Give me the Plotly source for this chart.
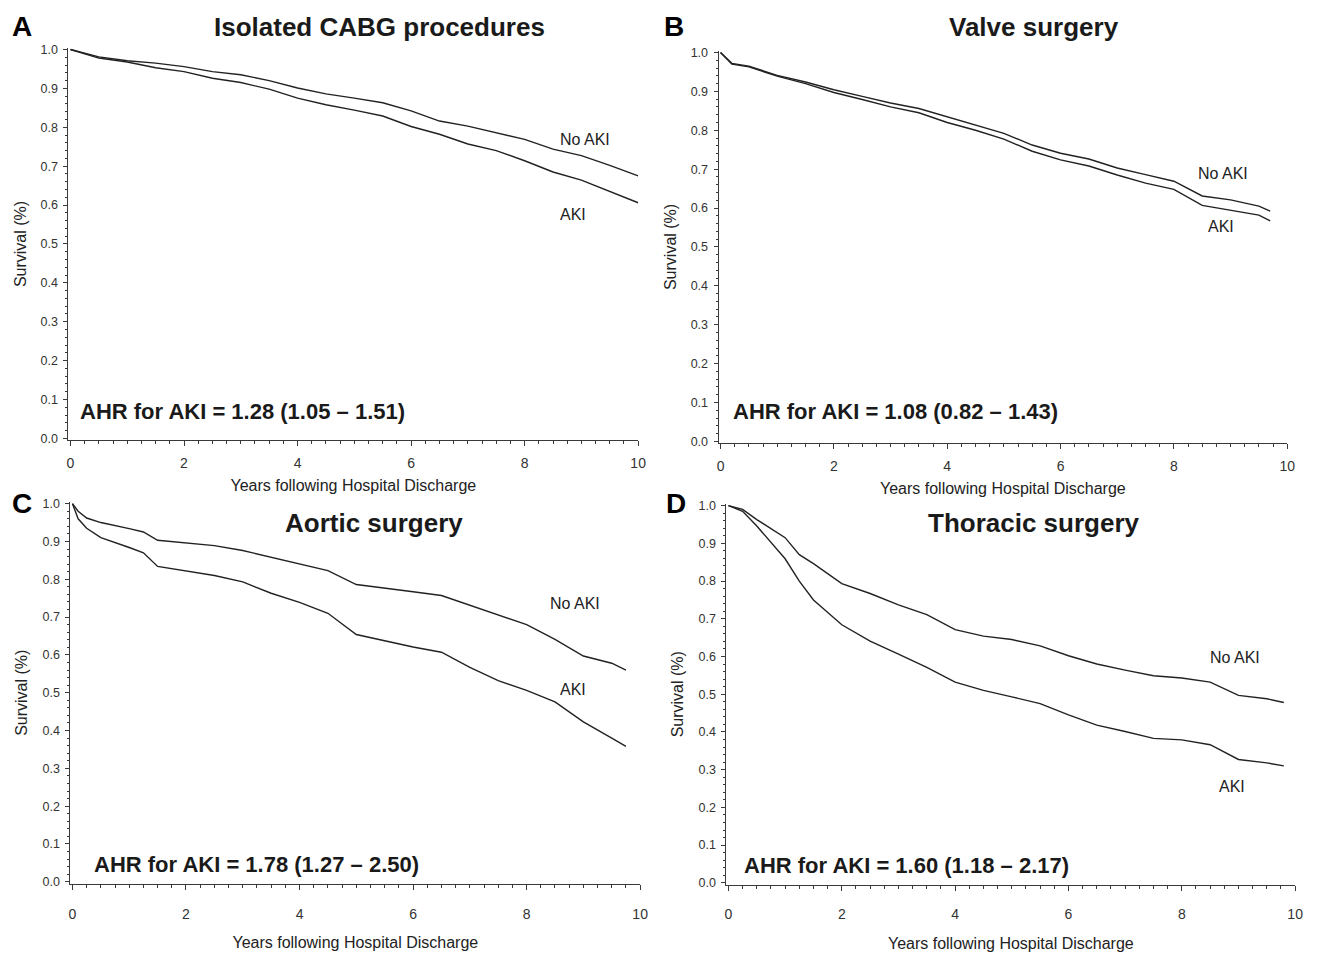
import plotly.graph_objects as go

# ---------------- data ----------------
t_a = [0, 0.5, 1, 1.5, 2, 2.5, 3, 3.5, 4, 4.5, 5, 5.5, 6, 6.5, 7, 7.5, 8, 8.5, 9, 9.5, 10]
cabg_no_aki = [1.0, 0.981, 0.971, 0.965, 0.956, 0.943, 0.935, 0.920, 0.901, 0.886, 0.875,
               0.863, 0.842, 0.816, 0.803, 0.786, 0.769, 0.744, 0.727, 0.702, 0.675]
cabg_aki = [1.0, 0.978, 0.968, 0.953, 0.943, 0.926, 0.915, 0.898, 0.875, 0.858, 0.844,
            0.829, 0.802, 0.782, 0.757, 0.740, 0.714, 0.685, 0.664, 0.634, 0.606]

t_b = [0, 0.1, 0.2, 0.5, 1, 1.5, 2, 2.5, 3, 3.5, 4, 4.5, 5, 5.5, 6, 6.5, 7, 7.5, 8, 8.5, 9, 9.5, 9.7]
valve_no_aki = [1.0, 0.985, 0.972, 0.965, 0.941, 0.924, 0.904, 0.887, 0.870, 0.856, 0.834, 0.813,
                0.792, 0.762, 0.741, 0.726, 0.703, 0.686, 0.669, 0.631, 0.621, 0.605, 0.592]
valve_aki = [1.0, 0.985, 0.970, 0.963, 0.939, 0.920, 0.897, 0.879, 0.860, 0.845, 0.820, 0.800,
             0.777, 0.746, 0.724, 0.708, 0.685, 0.664, 0.648, 0.607, 0.595, 0.582, 0.567]

t_c = [0, 0.1, 0.25, 0.5, 1, 1.25, 1.5, 2, 2.5, 3, 3.5, 4, 4.5, 5, 5.5, 6, 6.5, 7, 7.5, 8, 8.5, 9, 9.5, 9.75]
aortic_no_aki = [1.0, 0.980, 0.962, 0.950, 0.934, 0.925, 0.903, 0.896, 0.889, 0.876, 0.858, 0.841,
                 0.823, 0.786, 0.777, 0.767, 0.757, 0.732, 0.706, 0.680, 0.641, 0.597, 0.578, 0.560]
aortic_aki = [1.0, 0.960, 0.935, 0.910, 0.884, 0.870, 0.834, 0.823, 0.810, 0.793, 0.763, 0.739,
              0.710, 0.654, 0.637, 0.621, 0.607, 0.567, 0.532, 0.506, 0.476, 0.423, 0.380, 0.358]

t_d = [0, 0.25, 0.5, 1, 1.25, 1.5, 2, 2.5, 3, 3.5, 4, 4.5, 5, 5.5, 6, 6.5, 7, 7.5, 8, 8.5, 9, 9.5, 9.8]
thoracic_no_aki = [1.0, 0.99, 0.963, 0.915, 0.870, 0.846, 0.793, 0.767, 0.737, 0.711, 0.671, 0.654,
                   0.645, 0.628, 0.602, 0.580, 0.564, 0.549, 0.543, 0.532, 0.497, 0.488, 0.478]
thoracic_aki = [1.0, 0.985, 0.946, 0.859, 0.800, 0.750, 0.684, 0.641, 0.606, 0.571, 0.532, 0.510,
                0.493, 0.475, 0.445, 0.418, 0.401, 0.383, 0.379, 0.366, 0.327, 0.318, 0.310]

panel_letters = ["A", "B", "C", "D"]
panel_titles = ["Isolated CABG procedures", "Valve surgery", "Aortic surgery", "Thoracic surgery"]
ahr_texts = ["AHR for AKI = 1.28 (1.05 \u2013 1.51)", "AHR for AKI = 1.08 (0.82 \u2013 1.43)",
             "AHR for AKI = 1.78 (1.27 \u2013 2.50)", "AHR for AKI = 1.60 (1.18 \u2013 2.17)"]
x_ticks = [0, 2, 4, 6, 8, 10]
y_ticks = [0.0, 0.1, 0.2, 0.3, 0.4, 0.5, 0.6, 0.7, 0.8, 0.9, 1.0]
y_ticktext = ["%.1f" % v for v in y_ticks]
x_title = "Years following Hospital Discharge"
y_title = "Survival (%)"

series = [
    (t_a, cabg_no_aki, cabg_aki),
    (t_b, valve_no_aki, valve_aki),
    (t_c, aortic_no_aki, aortic_aki),
    (t_d, thoracic_no_aki, thoracic_aki),
]

# ---------------- layout geometry (pixels) ----------------
W, H = 1323, 955
FONT = "Liberation Sans, Arial, sans-serif"
INK = "#1a1a1a"
AX = "#3a3a3a"

# (left, right, bottom, top) in px
boxes = [(67, 641, 440, 43), (722, 1295, 443, 46), (69, 643, 888, 502), (730, 1303, 889, 504)]
title_pos = [(380, 22), (1040, 22), (375, 523), (1040, 523)]
letter_pos = [(20, 22), (677, 22), (20, 504), (679, 504)]
# label positions in data coords
noaki_lbl = [(9.07, 0.768), (8.86, 0.69), (8.86, 0.736), (8.93, 0.596)]
aki_lbl = [(8.85, 0.575), (8.83, 0.552), (8.81, 0.508), (8.88, 0.255)]
ahr_pos = [(0.13, 0.069), (0.19, 0.076), (0.35, 0.045), (0.23, 0.047)]
xtick_standoff = [5, 5, 12, 12]
xtitle_standoff = [9, 9, 16, 16]

fig = go.Figure()
annotations = []
layout = dict(width=W, height=H, margin=dict(l=0, r=0, t=0, b=0),
              paper_bgcolor="white", plot_bgcolor="white", showlegend=False,
              font=dict(family=FONT, color=INK))

for i in range(4):
    n = "" if i == 0 else str(i + 1)
    xa, ya = "x" + n, "y" + n
    t, no_aki, aki = series[i]
    fig.add_trace(go.Scatter(x=t, y=no_aki, mode="lines", xaxis=xa, yaxis=ya, name="No AKI",
                             line=dict(color="#222222", width=1.4)))
    fig.add_trace(go.Scatter(x=t, y=aki, mode="lines", xaxis=xa, yaxis=ya, name="AKI",
                             line=dict(color="#222222", width=1.4)))
    l, r, b, tp = boxes[i]
    layout["xaxis" + n] = dict(
        domain=[l / W, r / W], range=[-0.035, 10.0], anchor=ya,
        showline=True, linecolor=AX, linewidth=1, ticks="outside", ticklen=5, tickcolor=AX,
        showgrid=False, zeroline=False, tickvals=x_ticks,
        tickfont=dict(size=14, color="#333333", family=FONT), ticklabelstandoff=xtick_standoff[i],
        minor=dict(ticks="outside", ticklen=3, dtick=0.25, tick0=0, tickcolor=AX, showgrid=False),
        title=dict(text=x_title, font=dict(size=16, color="#222222", family=FONT),
                   standoff=xtitle_standoff[i]),
    )
    layout["yaxis" + n] = dict(
        domain=[1 - b / H, 1 - tp / H], range=[-0.005, 1.005], anchor=xa,
        showline=True, linecolor=AX, linewidth=1, ticks="outside", ticklen=4, tickcolor=AX,
        showgrid=False, zeroline=False, tickvals=y_ticks, ticktext=y_ticktext,
        tickfont=dict(size=12.5, color="#333333", family=FONT), ticklabelstandoff=3,
        minor=dict(ticks="outside", ticklen=2, dtick=0.02, tick0=0, tickcolor=AX, showgrid=False),
        title=dict(text=y_title, font=dict(size=16, color="#222222", family=FONT), standoff=10),
    )
    tx, ty = title_pos[i]
    annotations.append(dict(text="<b>%s</b>" % panel_titles[i], x=tx / W, y=1 - ty / H,
                            xref="paper", yref="paper", showarrow=False, xanchor="center",
                            yanchor="middle", font=dict(size=26, color=INK, family=FONT)))
    lx, ly = letter_pos[i]
    annotations.append(dict(text="<b>%s</b>" % panel_letters[i], x=lx / W, y=1 - ly / H,
                            xref="paper", yref="paper", showarrow=False, xanchor="center",
                            yanchor="middle", font=dict(size=28, color="#000000", family=FONT)))
    annotations.append(dict(text="No AKI", x=noaki_lbl[i][0], y=noaki_lbl[i][1], xref=xa, yref=ya,
                            showarrow=False, xanchor="center", yanchor="middle",
                            font=dict(size=16, color="#222222", family=FONT)))
    annotations.append(dict(text="AKI", x=aki_lbl[i][0], y=aki_lbl[i][1], xref=xa, yref=ya,
                            showarrow=False, xanchor="center", yanchor="middle",
                            font=dict(size=16, color="#222222", family=FONT)))
    annotations.append(dict(text="<b>%s</b>" % ahr_texts[i], x=ahr_pos[i][0], y=ahr_pos[i][1],
                            xref=xa, yref=ya, showarrow=False, xanchor="left", yanchor="middle",
                            font=dict(size=22, color=INK, family=FONT)))

layout["annotations"] = annotations
fig.update_layout(**layout)
fig.write_html("out.html")
